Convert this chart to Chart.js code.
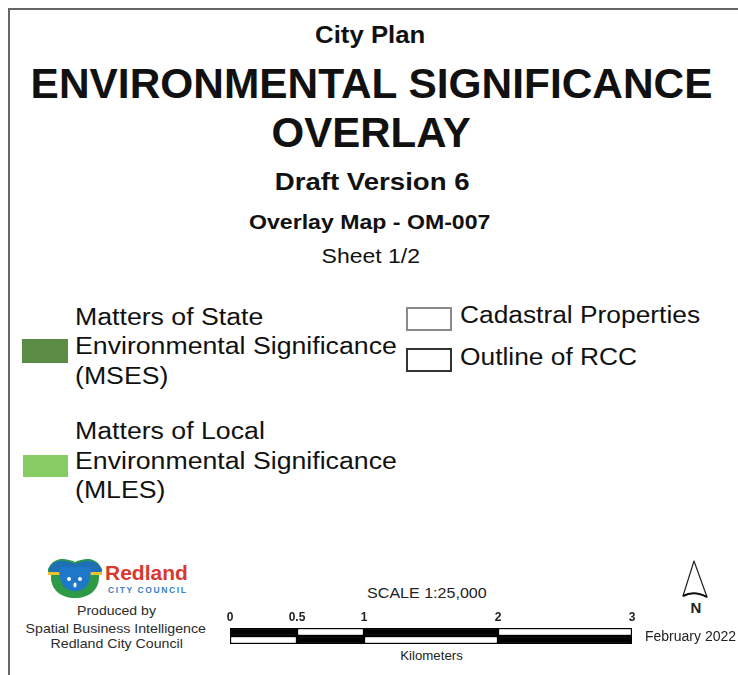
<!DOCTYPE html>
<html>
<head>
<meta charset="utf-8">
<script src="https://cdn.jsdelivr.net/npm/chart.js@4"></script>
<style>
  html, body { margin: 0; padding: 0; background: #fff; }
  body { width: 738px; height: 675px; position: relative; overflow: hidden;
         font-family: "Liberation Sans", Arial, sans-serif; color: #111; }
  .frame-top { position: absolute; left: 8px; top: 8px; width: 730px; height: 2px; background: #666; }
  .frame-left { position: absolute; left: 8px; top: 8px; width: 2px; height: 667px; background: #666; }
  .lbl { position: absolute; white-space: nowrap; }
  .lbl span { display: inline-block; }
  .swatch { position: absolute; box-sizing: border-box; }
  #scaleWrap { position: absolute; left: 210px; top: 612px; width: 442px; height: 32px; }
</style>
</head>
<body>
<div class="frame-top"></div>
<div class="frame-left"></div>

<!-- legend swatches -->
<div class="swatch" style="left:22px;top:339px;width:46px;height:24px;background:#5b8b45;"></div>
<div class="swatch" style="left:23px;top:455px;width:45px;height:22px;background:#86cc63;"></div>
<div class="swatch" style="left:406px;top:307px;width:46px;height:24px;border:2px solid #8a8a8a;"></div>
<div class="swatch" style="left:406px;top:348px;width:46px;height:24px;border:2px solid #333;"></div>

<!-- council logo -->
<svg style="position:absolute;left:46px;top:553px" width="58" height="46" viewBox="0 0 58 46">
  <path d="M2,16 C8,3 20,5 29,9 C38,5 50,3 56,16 L56,20 L2,20 Z" fill="#2a9a4a"/>
  <path d="M3,15 C9,5 20,7 29,11 C38,7 49,5 55,15 L55,19 L3,19 Z" fill="#1f6fb5"/>
  <rect x="2" y="19" width="54" height="3" fill="#f2c12e"/>
  <path d="M5,22 L53,22 L53,24 C53,37 43,45 29,45 C15,45 5,37 5,24 Z" fill="#2e9a47"/>
  <path d="M13,14 L45,14 C45,30 40,38 29,38 C18,38 13,30 13,14 Z" fill="#1f77c8"/>
  <circle cx="23" cy="26" r="2" fill="#fff"/>
  <circle cx="34" cy="26" r="2" fill="#fff"/>
  <ellipse cx="29" cy="32" rx="1.6" ry="2.4" fill="#fff"/>
</svg>

<!-- north arrow -->
<svg style="position:absolute;left:676px;top:556px" width="40" height="46" viewBox="0 0 40 46">
  <path d="M18,5 L7,40 Q18,34 31,41 Z" fill="none" stroke="#222" stroke-width="1.2" stroke-linejoin="round"/>
  <path d="M7,40 Q18,34 31,41" fill="none" stroke="#111" stroke-width="2"/>
</svg>

<div id="scaleWrap"><canvas id="scaleChart"></canvas></div>

<script>
// scale bar: break points in kilometres and the alternating fills of its two rows
const scaleTicks = [0, 0.5, 1, 2, 3];
const scaleRows = ['upper', 'lower'];
const upperFill = ['#000', '#fff', '#000', '#fff'];
const lowerFill = ['#fff', '#000', '#fff', '#000'];

// text placed around the chart: [text, x, baseline, size, weight, stretchX, align, color, extraStyle]
const labels = [
  ['City Plan', 370, 43.3, 23, 'bold', 1.12, 'center'],
  ['ENVIRONMENTAL SIGNIFICANCE', 371, 98.3, 42, 'bold', 1.01, 'center'],
  ['OVERLAY', 371, 147.5, 42, 'bold', 1.0, 'center'],
  ['Draft Version 6', 371.5, 190.7, 23, 'bold', 1.2, 'center'],
  ['Overlay Map - OM-007', 369, 228.3, 21, 'bold', 1.1, 'center'],
  ['Sheet 1/2', 371, 263.3, 20, 'normal', 1.15, 'center'],
  ['Matters of State', 75, 325, 23, 'normal', 1.16, 'left'],
  ['Environmental Significance', 75, 354.8, 23, 'normal', 1.16, 'left'],
  ['(MSES)', 75, 384.5, 23, 'normal', 1.16, 'left'],
  ['Matters of Local', 75, 439.3, 23, 'normal', 1.16, 'left'],
  ['Environmental Significance', 75, 469, 23, 'normal', 1.16, 'left'],
  ['(MLES)', 75, 498.7, 23, 'normal', 1.16, 'left'],
  ['Cadastral Properties', 460, 323, 23, 'normal', 1.145, 'left'],
  ['Outline of RCC', 460, 365, 23, 'normal', 1.145, 'left'],
  ['Redland', 105, 579.5, 21, 'bold', 1.0, 'left', '#d63a2f'],
  ['CITY COUNCIL', 108, 592.7, 8.5, 'bold', 1.0, 'left', '#3b82c4', 'letter-spacing:1.6px'],
  ['Produced by', 116, 615, 13, 'normal', 1.08, 'center', '#2b2b2b'],
  ['Spatial Business Intelligence', 115.5, 632.7, 13, 'normal', 1.09, 'center', '#2b2b2b'],
  ['Redland City Council', 116, 648.3, 13, 'normal', 1.09, 'center', '#2b2b2b'],
  ['SCALE 1:25,000', 426.7, 597.3, 15, 'normal', 1.07, 'center', '#222'],
  ['Kilometers', 431.7, 660.7, 12.5, 'normal', 1.06, 'center', '#222'],
  ['N', 696, 612.7, 15, 'bold', 1.0, 'center', '#222'],
  ['February 2022', 645, 640.7, 14, 'normal', 1.0, 'left', '#222']
];

labels.forEach(([text, x, base, size, weight, sx, align, color, extra]) => {
  const d = document.createElement('div');
  d.className = 'lbl';
  d.style.cssText = `top:${base - 0.8465 * size}px;font-size:${size}px;line-height:${size}px;font-weight:${weight};color:${color || '#111'};${extra || ''}`;
  const s = document.createElement('span');
  s.textContent = text;
  s.style.transformOrigin = align === 'center' ? '50% 50%' : '0 50%';
  s.style.transform = `scaleX(${sx})`;
  d.appendChild(s);
  document.body.appendChild(d);
  if (align === 'center') d.style.left = (x - d.offsetWidth / 2) + 'px';
  else d.style.left = x + 'px';
});

const segments = scaleTicks.slice(0, -1).map((start, i) => ({
  data: scaleRows.map(() => [start, scaleTicks[i + 1]]),
  backgroundColor: [upperFill[i], lowerFill[i]],
  borderColor: '#000',
  borderWidth: 1.5,
  borderSkipped: false,
  grouped: false,
  barPercentage: 1,
  categoryPercentage: 1
}));

new Chart(document.getElementById('scaleChart'), {
  type: 'bar',
  data: { labels: scaleRows, datasets: segments },
  options: {
    indexAxis: 'y',
    responsive: true,
    maintainAspectRatio: false,
    animation: false,
    layout: { padding: { left: 20, right: 20, top: 0, bottom: 0 } },
    plugins: { legend: { display: false }, tooltip: { enabled: false } },
    scales: {
      x: {
        type: 'linear',
        position: 'top',
        min: 0,
        max: 3,
        afterBuildTicks: (axis) => { axis.ticks = scaleTicks.map(v => ({ value: v })); },
        grid: { display: false, drawTicks: false },
        border: { display: false },
        ticks: {
          padding: 3,
          color: '#222',
          font: { family: 'Liberation Sans', size: 12, weight: 'bold' },
          maxRotation: 0,
          autoSkip: false,
          callback: (v) => String(v)
        }
      },
      y: { display: false }
    }
  }
});
</script>
</body>
</html>
